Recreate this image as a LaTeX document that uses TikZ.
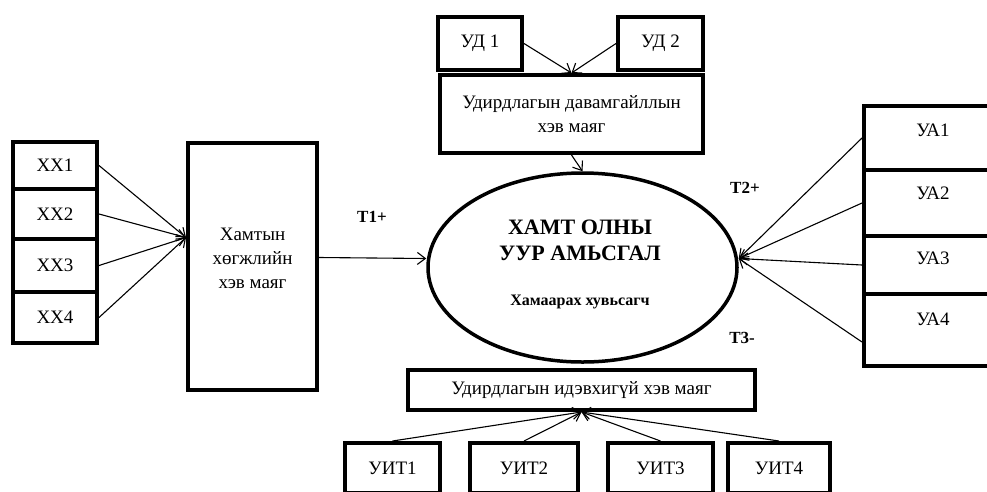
\documentclass[tikz,border=0pt]{standalone}
\usepackage{fontspec}
\setmainfont{Liberation Serif}
\usetikzlibrary{shapes.geometric,arrows.meta}

\tikzset{
  box/.style={draw,line width=4pt,inner sep=0pt,align=center,
    font=\fontsize{19}{24}\selectfont},
  lbl/.style={font=\fontsize{19}{24}\selectfont},
  tag/.style={font=\bfseries\fontsize{17}{20}\selectfont},
  link/.style={->,line width=1.1pt},
}

\begin{document}
\begin{tikzpicture}[x=1pt,y=-1pt,>={Straight Barb[length=8pt,width=12pt]}]
  \useasboundingbox (0,0) rectangle (987,491);
  \clip (0,0) rectangle (987,491);
  % Centre
  \node[ellipse,draw,line width=3.5pt,minimum width=309pt,minimum height=189pt] (ell) at (582.5,267.5) {};
  \node[align=center,font=\bfseries\fontsize{22}{26}\selectfont] (ttl) at (580,240) {ХАМТ ОЛНЫ\\УУР АМЬСГАЛ};
  \node[font=\bfseries\fontsize{16}{19}\selectfont] (dep) at (580,302) {Хамаарах хувьсагч};
  % Top
  \node[box,minimum width=84pt,minimum height=53pt] (ud1) at (480,43.5) {УД 1};
  \node[box,minimum width=85pt,minimum height=53pt] (ud2) at (660.5,43.5) {УД 2};
  \node[box,minimum width=263pt,minimum height=78pt] (dav) at (571.5,114) {Удирдлагын давамгайллын\\хэв маяг};
  \draw[link] (ud1.east) -- (dav.north);
  \draw[link] (ud2.west) -- (dav.north);
  \draw[link] (dav.south) -- (ell.north);
  % Left
  \node[box,minimum width=84pt,minimum height=47pt] (xx1) at (55,165.5) {ХХ1};
  \node[box,minimum width=84pt,minimum height=50pt] (xx2) at (55,214) {ХХ2};
  \node[box,minimum width=84pt,minimum height=53pt] (xx3) at (55,265.5) {ХХ3};
  \node[box,minimum width=84pt,minimum height=51pt] (xx4) at (55,317.5) {ХХ4};
  \node[box,minimum width=129pt,minimum height=247pt] (xam) at (252.5,266.5) {Хамтын\\хөгжлийн\\хэв маяг\\[-8pt]};
  \coordinate (xin) at ([yshift=29pt]xam.west);
  \foreach \i in {1,...,4}
    \draw[link] (xx\i.east) -- (xin);
  \draw[link] ([yshift=9pt]xam.east) -- ([yshift=9pt]ell.west);
  \node[tag] (t1) at (372,217) {Т1+};
  % Right
  \foreach \i/\y/\h in {1/138/64,2/203/66,3/265/58,4/330/72}
    \node[box,minimum width=150pt,minimum height=\h pt] (ua\i) at (939,\y) {};
  \foreach \i/\y in {1/130,2/193,3/258,4/319}
    \node[lbl] (ua\i t) at (933,\y) {УА\i};
  \coordinate (ein) at ([yshift=9pt]ell.east);
  \foreach \i in {1,2,3}
    \draw[link] (ua\i.west) -- (ein);
  \draw[link] ([yshift=-12pt]ua4.west) -- (ein);
  \node[tag] (t2) at (745,188) {Т2+};
  \node[tag] (t3) at (742,338) {Т3-};
  % Bottom
  \node[box,minimum width=347pt,minimum height=40pt] (idv) at (581.5,390) {Удирдлагын идэвхигүй хэв маяг};
  \foreach \i/\x/\w in {1/392.5/95,2/524/108,3/660.5/105,4/779/102}
    \node[box,minimum width=\w pt,minimum height=50pt] (uit\i) at (\x,468) {УИТ\i};
  \foreach \i in {1,...,4}
    \draw[link] (uit\i.north) -- (idv.south);
\end{tikzpicture}
\end{document}
